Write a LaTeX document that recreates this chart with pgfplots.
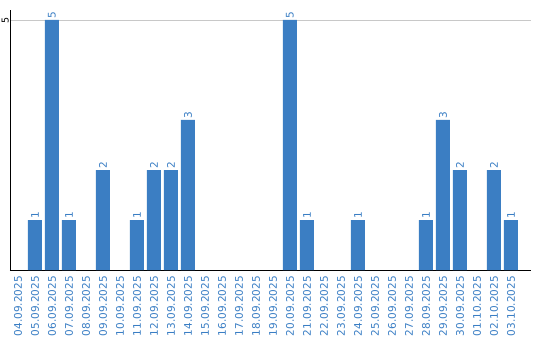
\documentclass[border=0pt]{standalone}
\usepackage{pgfplots}
\pgfplotsset{compat=1.18}
\usepackage{fontspec}
\setmainfont{DejaVu Sans}
\definecolor{barblue}{HTML}{3B7EC3}
\definecolor{txtblue}{HTML}{3A7EC4}
\definecolor{gridgray}{HTML}{C8C8C8}
\begin{document}
\begin{tikzpicture}[x=1pt,y=1pt]
\path[use as bounding box] (-10,-70) rectangle (530,270);
\begin{axis}[
  at={(0,0)}, anchor=south west,
  scale only axis,
  width=521pt, height=260pt,
  xmin=-0.47, xmax=30.18,
  ymin=0, ymax=5.2,
  axis x line=bottom, axis y line=left,
  axis line style={black, -, line width=0.8pt},
  xtick={0,...,29},
  xticklabels={04.09.2025,05.09.2025,06.09.2025,07.09.2025,08.09.2025,09.09.2025,10.09.2025,11.09.2025,12.09.2025,13.09.2025,14.09.2025,15.09.2025,16.09.2025,17.09.2025,18.09.2025,19.09.2025,20.09.2025,21.09.2025,22.09.2025,23.09.2025,24.09.2025,25.09.2025,26.09.2025,27.09.2025,28.09.2025,29.09.2025,30.09.2025,01.10.2025,02.10.2025,03.10.2025},
  xticklabel style={rotate=90, anchor=east, inner xsep=6pt, inner ysep=0pt, font=\fontsize{10.5}{12}\selectfont, text=txtblue},
  ytick={5},
  yticklabel style={rotate=90, anchor=south, inner sep=1pt, font=\fontsize{9.5}{11}\selectfont, text=black},
  major tick length=0pt,
  ymajorgrids,
  grid style={gridgray, line width=0.8pt},
  /pgf/number format/assume math mode=true,
  clip=false,
]
\addplot[ybar, bar width=14pt, fill=barblue, draw=none, bar shift=0pt,
  nodes near coords,
  every node near coord/.append style={rotate=90, anchor=west, inner sep=1.5pt, text=txtblue, font=\fontsize{10.5}{12}\selectfont}]
coordinates {
(1,1) (2,5) (3,1) (5,2) (7,1) (8,2) (9,2) (10,3) (16,5) (17,1) (20,1) (24,1) (25,3) (26,2) (28,2) (29,1)
};
\end{axis}
\end{tikzpicture}
\end{document}
